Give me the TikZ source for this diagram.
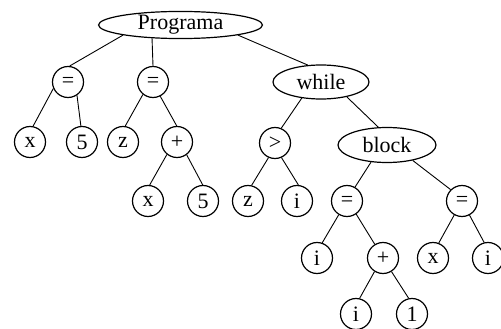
\documentclass[tikz,border=0pt]{standalone}
\usepackage{fontspec}
\setmainfont{Liberation Serif}
\usetikzlibrary{shapes.geometric}
\begin{document}
\begin{tikzpicture}[x=1pt,y=-1pt,
  leaf/.style={circle,draw,line width=1.2pt,minimum size=31pt,inner sep=0pt,
    font=\fontsize{22}{25}\selectfont},
  kw/.style={ellipse,draw,line width=1.2pt,inner sep=0pt,
    font=\fontsize{22}{25}\selectfont},
  edge/.style={line width=0.9pt}]
\useasboundingbox (0,0) rectangle (501,329);

% keyword nodes
\node[kw,minimum width=164pt,minimum height=27pt] (prog) at (180.5,25) {Programa};
\node[kw,minimum width=96pt,minimum height=34pt] (while) at (321,82) {while};
\node[kw,minimum width=98pt,minimum height=35pt] (block) at (387,145) {block};

% operator and leaf nodes
\node[leaf] (eq1) at (68,82) {=};
\node[leaf] (eq2) at (153,82) {=};
\node[leaf] (x1) at (30,142) {x};
\node[leaf] (f1) at (82,142) {5};
\node[leaf] (z1) at (123,142) {z};
\node[leaf] (p1) at (177,142) {+};
\node[leaf] (x2) at (148,201) {x};
\node[leaf] (f2) at (203,201) {5};
\node[leaf] (gt) at (275,143) {>};
\node[leaf] (z2) at (248,201) {z};
\node[leaf] (i1) at (297,201) {i};
\node[leaf] (eq3) at (347,201) {=};
\node[leaf] (eq4) at (462,201) {=};
\node[leaf] (i2) at (317,258) {i};
\node[leaf] (p2) at (383,258) {+};
\node[leaf] (x3) at (433,258) {x};
\node[leaf] (i3) at (488,258) {i};
\node[leaf] (i4) at (356,314) {i};
\node[leaf] (one) at (412,314) {1};

% connectors
\draw[edge] (prog.190) -- (eq1.84);
\draw[edge] (prog.205) -- (eq2.north);
\draw[edge] (prog.350) -- (while.128);
\draw[edge] (eq1.204) -- (x1.79);
\draw[edge] (eq1.304) -- (f1.94);
\draw[edge] (eq2.231) -- (z1.82);
\draw[edge] (eq2.297) -- (p1.91);
\draw[edge] (p1.231) -- (x2.84);
\draw[edge] (p1.307) -- (f2.91);
\draw[edge] (while.220) -- (gt.67);
\draw[edge] (while.330) -- (block.116);
\draw[edge] (gt.246) -- (z2.77);
\draw[edge] (gt.294) -- (i1.85);
\draw[edge] (block.227) -- (eq3.60);
\draw[edge] (block.329) -- (eq4.135);
\draw[edge] (eq3.239) -- (i2.71);
\draw[edge] (eq3.305) -- (p2.121);
\draw[edge] (eq4.241) -- (x3.69);
\draw[edge] (eq4.298) -- (i3.104);
\draw[edge] (p2.238) -- (i4.77);
\draw[edge] (p2.302) -- (one.102);
\end{tikzpicture}
\end{document}
